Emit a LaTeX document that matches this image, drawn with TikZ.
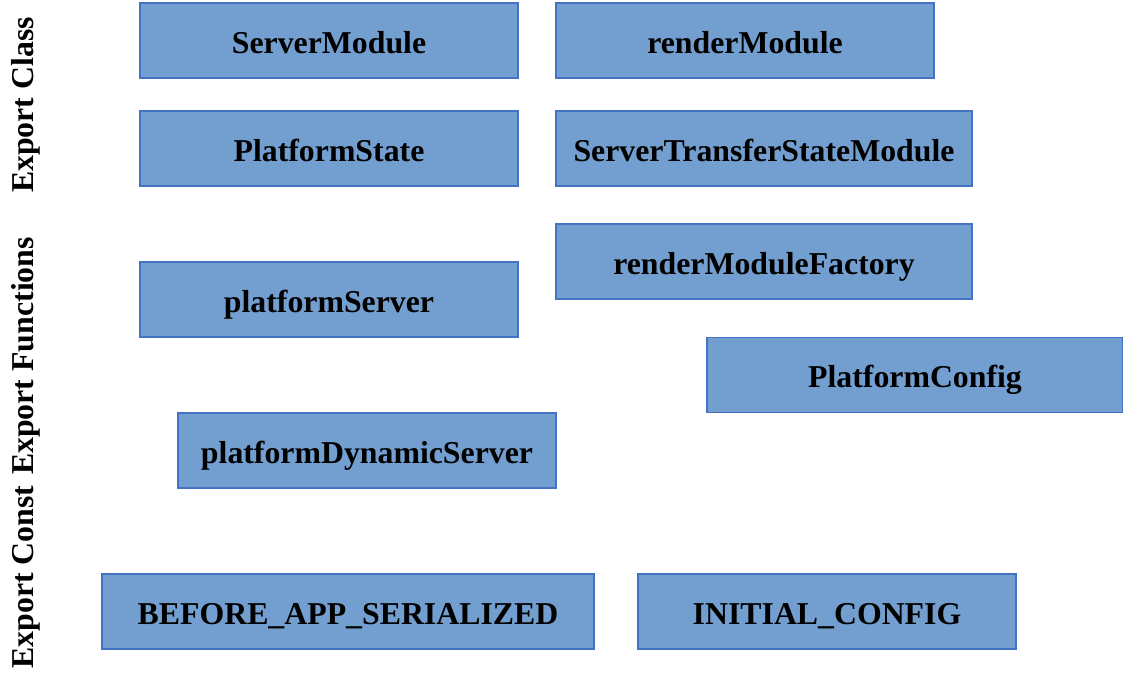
\documentclass[tikz,border=0pt]{standalone}
\usepackage{fontspec}
\setmainfont{Liberation Serif}

\definecolor{boxfill}{RGB}{114,159,207}
\definecolor{boxline}{RGB}{68,114,196}

\begin{document}
\begin{tikzpicture}[
        x = 0.5pt,
        y = -0.5pt,
        font = \bfseries\fontsize{15.9}{19}\selectfont,
        box/.style = {
          rectangle,
          fill = boxfill,
          draw = boxline,
          line width = 0.7pt,
          minimum height = 37.5pt,
          text height = 12.5pt,
          text depth = 0pt,
          inner sep = 0,
        },
        side/.style = {
          rotate = 90,
          anchor = base,
          inner sep = 0,
        },
      ]
      \useasboundingbox (0,0) rectangle (1123,680);

      \foreach \name/\x/\y/\w/\desc in {
        srvmod/329/40.5/189pt/{ServerModule},
        rndmod/745/40.5/189pt/{renderModule},
        pstate/329/148.5/189pt/{PlatformState},
        tstate/764/148.5/208pt/{ServerTransferStateModule},
        rndfac/764/261.5/208pt/{renderModuleFactory},
        pserver/329/299.5/189pt/{platformServer},
        pconfig/915/375/208pt/{PlatformConfig},
        pdynamic/367/450.5/189pt/{platformDynamicServer},
        beforeapp/348/611.5/246pt/{BEFORE\_APP\_SERIALIZED},
        initconf/827/611.5/189pt/{INITIAL\_CONFIG}
      }{
        \node[
          box,
          minimum width = \w,
        ] (\name) at (\x,\y) {\desc};
      }

      \foreach \name/\y/\desc in {
        lclass/105/{Export Class},
        lfunc/356/{Export Functions},
        lconst/577/{Export Const}
      }{
        \node[side] (\name) at (33,\y) {\desc};
      }

    \end{tikzpicture}
\end{document}
